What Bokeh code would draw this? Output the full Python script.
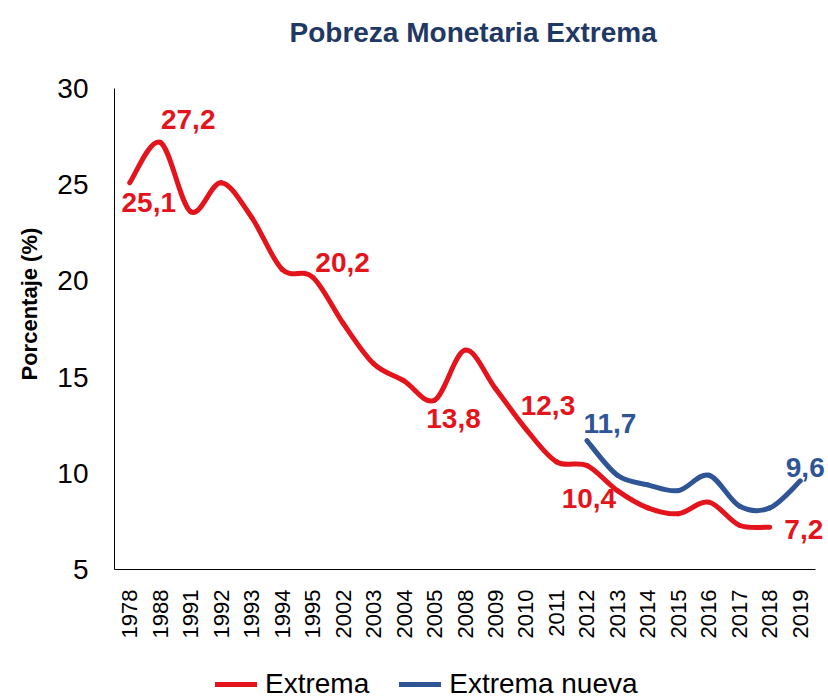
import math
from bokeh.plotting import figure
from bokeh.models import (Range1d, FixedTicker, Legend, LegendItem,
                          ColumnDataSource, Label)
from bokeh.embed import file_html
from bokeh.resources import INLINE
from bokeh.core.properties import value

# ---------------- data ----------------
years = ["1978", "1988", "1991", "1992", "1993", "1994", "1995", "2002", "2003",
         "2004", "2005", "2008", "2009", "2010", "2011", "2012", "2013", "2014",
         "2015", "2016", "2017", "2018", "2019"]
extrema = [25.1, 27.2, 23.6, 25.1, 23.3, 20.6, 20.2, 17.8, 15.7, 14.8, 13.8,
           16.4, 14.4, 12.3, 10.6, 10.4, 9.1, 8.2, 7.9, 8.5, 7.3, 7.2, None]
extrema_nueva = [None] * 15 + [11.7, 9.9, 9.4, 9.1, 9.9, 8.3, 8.2, 9.6]
y_ticks = [5, 10, 15, 20, 25, 30]

# labelled points: (year, dx, dy) -- dx/dy are pixel offsets (style)
red_labels = [("1978", 19, 20), ("1988", 28, -23), ("1995", 30, -15),
              ("2005", 19, 18), ("2010", 22, -24), ("2012", 2, 33),
              ("2018", 34, 2)]
blue_labels = [("2012", 23, -17), ("2019", 5, -13)]

RED = "#E3141C"
BLUE = "#2F5597"
FONT = "Liberation Sans"

# ---------------- layout (pixels) ----------------
W, H = 828, 700
FRAME_T = 58                                  # drawing region top
AX_L, AX_R, AX_T, AX_B = 114, 815, 88, 569    # visible axes box
YLABEL_X, YLABEL_Y0 = 29, 380                 # y-title centre x / start y
n = len(years)
px_x = (AX_R - AX_L) / n
px_y = (AX_B - AX_T) / (y_ticks[-1] - y_ticks[0])
x_start = -0.5 - AX_L / px_x
x_end = -0.5 + (W - AX_L) / px_x
y_end = y_ticks[-1] + (AX_T - FRAME_T) / px_y
y_start = y_ticks[0] - (H - AX_B) / px_y


def smooth_segments(vals):
    pts = [(i, v) for i, v in enumerate(vals) if v is not None]
    xs = [p[0] for p in pts]
    ys = [p[1] for p in pts]
    m = len(xs)
    d = dict(x0=[], y0=[], x1=[], y1=[], cx0=[], cy0=[], cx1=[], cy1=[])
    for i in range(m - 1):
        im = max(i - 1, 0)
        ip = min(i + 2, m - 1)
        d["x0"].append(xs[i]); d["y0"].append(ys[i])
        d["x1"].append(xs[i + 1]); d["y1"].append(ys[i + 1])
        d["cx0"].append(xs[i] + (xs[i + 1] - xs[im]) / 6.0)
        d["cy0"].append(ys[i] + (ys[i + 1] - ys[im]) / 6.0)
        d["cx1"].append(xs[i + 1] - (xs[ip] - xs[i]) / 6.0)
        d["cy1"].append(ys[i + 1] - (ys[ip] - ys[i]) / 6.0)
    return ColumnDataSource(d)


def label_source(vals, labels):
    d = dict(x=[], y=[], text=[], dx=[], dy=[])
    for yr, dx, dy in labels:
        i = years.index(yr)
        v = vals[i]
        d["x"].append(i); d["y"].append(v)
        d["text"].append(f"{v:.1f}".replace(".", ","))
        d["dx"].append(dx); d["dy"].append(dy)
    return ColumnDataSource(d)


p = figure(width=W, height=H,
           x_range=Range1d(x_start, x_end),
           y_range=Range1d(y_start, y_end),
           output_backend="svg", toolbar_location=None,
           min_border_left=0, min_border_right=0,
           min_border_top=FRAME_T, min_border_bottom=0)

p.title.text = "Pobreza Monetaria Extrema"
p.title.align = "left"
p.title.offset = 289
p.title.text_font = FONT
p.title.text_font_size = "28px"
p.title.text_font_style = "bold"
p.title.text_color = "#1F3864"
p.title.standoff = 22

p.outline_line_color = None
p.xgrid.visible = False
p.ygrid.visible = False
p.background_fill_color = "white"
p.border_fill_color = "white"

xa = p.xaxis[0]
xa.fixed_location = y_ticks[0]
xa.bounds = (-0.5, n - 0.5)
xa.ticker = FixedTicker(ticks=list(range(n)))
xa.major_label_overrides = {i: y for i, y in enumerate(years)}
xa.major_label_orientation = math.pi / 2
xa.major_label_text_font = FONT
xa.major_label_text_font_size = "22px"
xa.major_label_text_color = "#000000"
xa.major_tick_line_color = None
xa.minor_tick_line_color = None
xa.major_label_standoff = 14
xa.axis_line_color = "#000000"
xa.axis_line_width = 1

ya = p.yaxis[0]
ya.fixed_location = -0.5
ya.bounds = (y_ticks[0], y_ticks[-1])
ya.ticker = FixedTicker(ticks=y_ticks)
ya.major_label_text_font = FONT
ya.major_label_text_font_size = "28px"
ya.major_label_text_color = "#000000"
ya.major_tick_line_color = None
ya.minor_tick_line_color = None
ya.major_label_standoff = 20
ya.axis_line_color = "#000000"
ya.axis_line_width = 1

# y-axis title, placed through the plot's own scales
ytitle = Label(x=-0.5 - (AX_L - YLABEL_X) / px_x,
               y=y_ticks[0] + (AX_B - YLABEL_Y0) / px_y,
               text="Porcentaje (%)", angle=math.pi / 2,
               text_align="left", text_baseline="middle",
               text_font=FONT, text_font_size="22px", text_font_style="bold",
               text_color="#000000")
p.add_layout(ytitle)

r1 = p.bezier(x0="x0", y0="y0", x1="x1", y1="y1", cx0="cx0", cy0="cy0",
              cx1="cx1", cy1="cy1", source=smooth_segments(extrema),
              line_color=RED, line_width=5, line_cap="round", line_join="round")
r2 = p.bezier(x0="x0", y0="y0", x1="x1", y1="y1", cx0="cx0", cy0="cy0",
              cx1="cx1", cy1="cy1", source=smooth_segments(extrema_nueva),
              line_color=BLUE, line_width=5, line_cap="round", line_join="round")

for src, col in ((label_source(extrema, red_labels), RED),
                 (label_source(extrema_nueva, blue_labels), BLUE)):
    p.text(x="x", y="y", text="text", x_offset="dx", y_offset="dy", source=src,
           text_color=col, text_font=value(FONT), text_font_size="28px",
           text_font_style="bold", text_align="center", text_baseline="middle")

legend = Legend(items=[LegendItem(label="Extrema", renderers=[r1]),
                       LegendItem(label="Extrema nueva", renderers=[r2])],
                location=(AX_L + 101, 0), orientation="horizontal",
                label_text_font=FONT, label_text_font_size="28px",
                label_text_color="#000000",
                glyph_width=42, glyph_height=28, label_standoff=8,
                spacing=30, padding=0, margin=0,
                border_line_color=None, background_fill_alpha=0)
p.add_layout(legend)

open("out.html", "w").write(file_html(p, INLINE))
